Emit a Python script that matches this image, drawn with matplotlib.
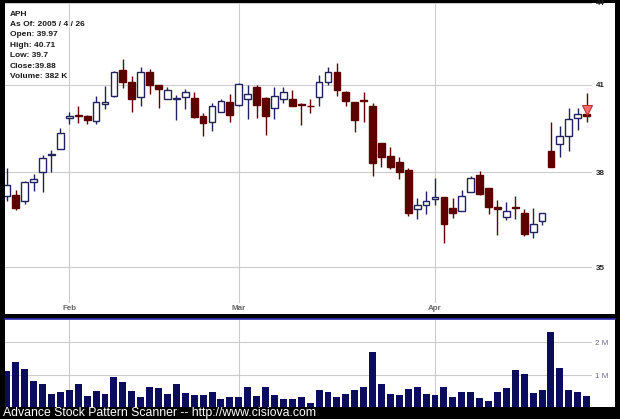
import numpy as np
import pandas as pd
import matplotlib
matplotlib.use('Agg')
import matplotlib.pyplot as plt
from matplotlib.patches import Rectangle
from matplotlib.lines import Line2D
from matplotlib.ticker import NullLocator

# 거래일 (2005-01-21 ~ 2005-04-26, 휴장일 제외)
holidays = ['2005-02-21', '2005-03-25']
dates = pd.bdate_range('2005-01-21', '2005-04-26')
dates = dates[~dates.isin(pd.to_datetime(holidays))]

opens = [37.23, 37.25, 37.05, 37.69, 38.02, 38.58, 38.77, 39.83, 39.93, 39.90,
         39.74, 40.33, 40.58, 41.51, 41.08, 40.56, 41.45, 40.97, 40.50, 40.50,
         40.56, 40.52, 39.90, 39.68, 40.04, 40.40, 40.27, 40.49, 40.91, 40.52,
         40.16, 40.49, 40.50, 40.33, 40.26, 40.57, 41.08, 41.43, 40.72, 40.40,
         40.45, 40.24, 38.97, 38.53, 38.33, 38.08, 36.81, 36.94, 37.12, 37.19,
         36.85, 36.73, 37.34, 37.91, 37.50, 36.88, 36.57, 36.88, 36.68, 36.08,
         36.42, 38.69, 38.94, 39.21, 39.83, 39.97]
highs = [38.13, 37.42, 37.72, 37.93, 38.58, 38.73, 39.48, 40.04, 40.24, 39.94,
         40.58, 40.94, 41.49, 41.93, 41.30, 41.64, 41.55, 40.99, 40.91, 40.63,
         40.84, 40.73, 40.00, 40.35, 40.50, 40.66, 41.05, 40.97, 40.99, 40.56,
         40.91, 40.90, 40.81, 40.34, 40.49, 41.34, 41.64, 41.78, 40.78, 40.40,
         40.73, 40.34, 38.97, 38.85, 38.49, 38.13, 37.17, 37.39, 37.80, 37.20,
         37.15, 37.42, 37.86, 38.05, 37.50, 37.10, 37.03, 37.23, 36.81, 36.85,
         36.68, 39.68, 39.56, 40.17, 40.17, 40.71]
lows = [37.08, 36.79, 36.98, 37.39, 37.34, 38.01, 38.76, 39.61, 39.66, 39.63,
        39.63, 40.13, 40.57, 40.89, 40.02, 40.24, 40.66, 40.18, 40.50, 39.76,
        40.13, 39.83, 39.20, 39.38, 40.03, 39.68, 40.26, 39.79, 39.83, 39.23,
        39.79, 40.34, 40.24, 39.57, 40.00, 40.24, 40.99, 40.61, 40.24, 39.36,
        39.68, 37.89, 38.17, 38.11, 37.78, 36.60, 36.48, 36.64, 36.94, 35.74,
        36.52, 36.73, 37.34, 37.26, 36.64, 35.99, 36.45, 36.48, 35.96, 35.89,
        36.30, 38.17, 38.50, 38.72, 39.43, 39.70]
closes = [37.58, 36.83, 37.69, 37.78, 38.47, 38.61, 39.31, 39.91, 39.89, 39.75,
          40.40, 40.40, 41.45, 41.09, 40.50, 41.44, 40.99, 40.84, 40.79, 40.54,
          40.73, 39.85, 39.66, 40.24, 40.42, 39.92, 41.03, 40.66, 40.29, 39.91,
          40.59, 40.73, 40.26, 40.29, 40.23, 41.08, 41.43, 40.79, 40.43, 39.75,
          40.41, 38.32, 38.52, 38.17, 38.02, 36.68, 36.94, 37.05, 37.19, 36.33,
          36.68, 37.24, 37.80, 37.29, 36.86, 36.81, 36.73, 36.83, 36.02, 36.32,
          36.68, 38.18, 39.21, 39.79, 39.97, 39.88]
# 거래량 (백만 주)
volumes = [1.14, 1.42, 1.19, 0.84, 0.74, 0.43, 0.49, 0.55, 0.74, 0.37,
           0.53, 0.43, 0.95, 0.79, 0.53, 0.35, 0.65, 0.62, 0.42, 0.74,
           0.46, 0.40, 0.40, 0.49, 0.28, 0.34, 0.34, 0.65, 0.37, 0.65,
           0.40, 0.28, 0.27, 0.34, 0.15, 0.55, 0.50, 0.33, 0.43, 0.57,
           0.64, 1.72, 0.74, 0.43, 0.41, 0.58, 0.64, 0.42, 0.40, 0.64,
           0.35, 0.49, 0.49, 0.31, 0.23, 0.51, 0.62, 1.16, 1.04, 0.47,
           0.57, 2.31, 1.22, 0.57, 0.49, 0.38]
price_ticks = [35, 38, 41, 44]
volume_ticks = [1, 2]
volume_labels = ['1 M', '2 M']
signal_price = 40.12

info_lines = ['APH', 'As Of: 2005 / 4 / 26', 'Open: 39.97', 'High: 40.71',
              'Low: 39.7', 'Close:39.88', 'Volume: 382 K']

UP_EDGE = '#22225e'
DOWN = '#5c0000'
GRID = '#cccccc'
W, H = 620, 419


def fx(px):
    return px / W


def fy(py):
    return 1 - py / H


fig = plt.figure(figsize=(6.2, 4.19), dpi=100, facecolor='black')
plt.rcParams['font.family'] = ['Liberation Sans', 'DejaVu Sans']

# 흰 패널 배경
fig.patches.append(Rectangle((fx(5), fy(314)), fx(610), 311 / H, transform=fig.transFigure,
                             facecolor='white', edgecolor='none', zorder=-5))
fig.patches.append(Rectangle((fx(5), fy(407)), fx(610), 88 / H, transform=fig.transFigure,
                             facecolor='white', edgecolor='none', zorder=-5))
fig.lines.append(Line2D([fx(5), fx(615)], [fy(319), fy(319)], transform=fig.transFigure,
                        color='#2a2ab0', lw=1.2))

x = np.arange(len(dates))
month_idx = [i for i in range(1, len(dates)) if dates[i].month != dates[i - 1].month]
month_names = [dates[i].strftime('%b') for i in month_idx]

# 1. 가격 차트
ax = fig.add_axes([fx(5), fy(303), fx(587), 300 / H])
ax.set_facecolor('none')
ax.set_yscale('log')
for i in x:
    o, h, l, c = opens[i], highs[i], lows[i], closes[i]
    if c >= o:
        ax.vlines(i, l, h, color=UP_EDGE, lw=1, zorder=2)
        ax.bar(i, max(c - o, 0.02), bottom=o, width=0.76, facecolor='white',
               edgecolor=UP_EDGE, lw=1, zorder=3)
    else:
        ax.vlines(i, l, h, color=DOWN, lw=1, zorder=2)
        ax.bar(i, max(o - c, 0.02), bottom=c, width=0.76, facecolor=DOWN,
               edgecolor=DOWN, lw=1, zorder=3)
ax.plot(x[-1], signal_price, marker='v', ms=6.5, mfc='#f07070', mec='#c03030',
        mew=0.8, zorder=4)

ax.set_xlim(-0.21, 65.6)
ax.set_ylim(33.93, 44.0)
ax.yaxis.set_minor_locator(NullLocator())
ax.yaxis.tick_right()
ax.set_yticks(price_ticks)
ax.set_yticklabels([str(t) for t in price_ticks], fontsize=5.8, fontweight='bold', color='#222222')
ax.set_xticks(month_idx)
ax.set_xticklabels(month_names, fontsize=5.8, fontweight='bold', color='#666666')
ax.tick_params(length=0, pad=1.5)
ax.tick_params(axis='y', pad=2.5)
ax.grid(True, color=GRID, lw=0.8)
ax.set_axisbelow(True)
for s in ax.spines.values():
    s.set_visible(False)

for k, line in enumerate(info_lines):
    fig.text(fx(10), fy(14 + k * 10.4), line, fontsize=6, fontweight='bold',
             color='#1a1a1a', va='center', ha='left')

# 2. 거래량 차트
vax = fig.add_axes([fx(5), fy(407), fx(587), 87 / H])
vax.set_facecolor('none')
vax.bar(x, volumes, width=0.78, color='#0c0c5c', zorder=3)
vax.set_xlim(-0.21, 65.6)
vax.set_ylim(0.04, 2.68)
vax.yaxis.tick_right()
vax.set_yticks(volume_ticks)
vax.set_yticklabels(volume_labels, fontsize=5.8, color='#6a6a90')
vax.set_xticks(month_idx)
vax.set_xticklabels([])
vax.tick_params(length=0, pad=2)
vax.grid(True, color=GRID, lw=0.8)
vax.set_axisbelow(True)
for s in vax.spines.values():
    s.set_visible(False)

fig.text(fx(3), fy(413), 'Advance Stock Pattern Scanner -- http://www.cisiova.com',
         fontsize=8.8, color='white', va='center', ha='left')

plt.savefig('out.png', dpi=100, facecolor='black')
